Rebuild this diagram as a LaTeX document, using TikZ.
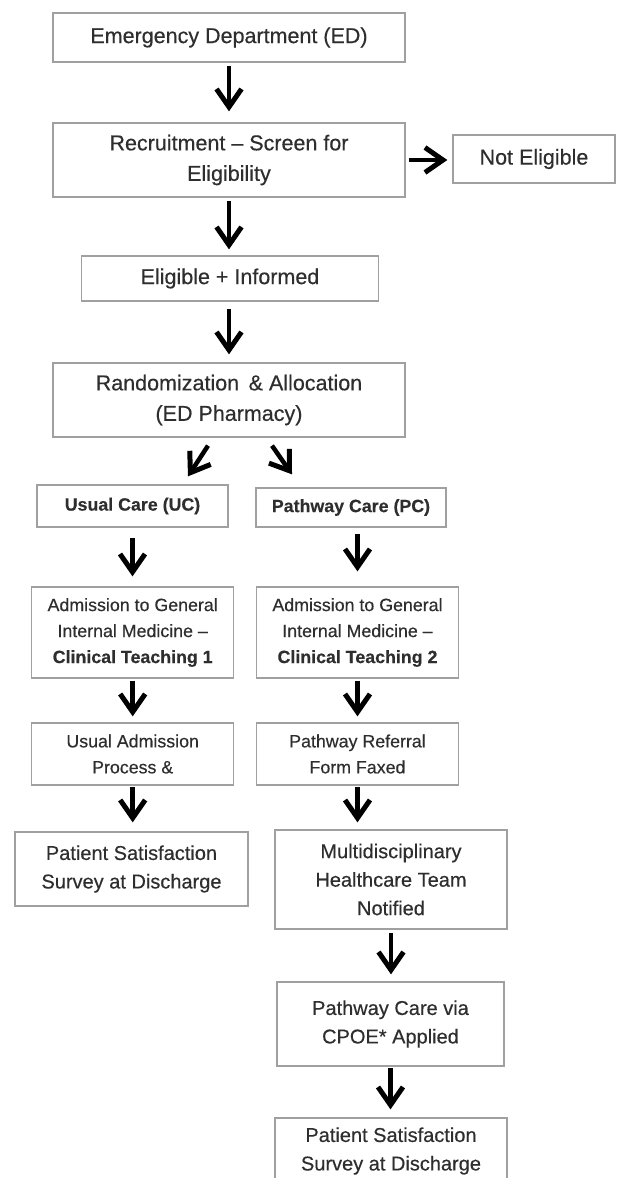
\documentclass[tikz,border=0pt]{standalone}
\usepackage{fontspec}
\setmainfont{Liberation Sans}[FakeBold=0.35]
\usetikzlibrary{arrows.meta,calc}
\definecolor{txt}{HTML}{2E2E2E}
\definecolor{bdr}{HTML}{A0A0A0}
\tikzset{
  box/.style={draw=bdr, line width=1.3pt, fill=white, text=txt, align=center,
    inner sep=0pt, font=\fontsize{21.5}{30.5}\selectfont},
  midtext/.style={font=\fontsize{20}{28.5}\selectfont},
  smalltext/.style={font=\fontsize{17.8}{26}\selectfont},
  arr/.style={line width=4.5pt, -{Straight Barb[length=18pt,width=25pt,line width=5pt]}},
}
\begin{document}
\begin{tikzpicture}[x=1pt,y=-1pt]
\useasboundingbox (0,0) rectangle (616,1178);
\clip (0,0) rectangle (616,1178);

\node[box, minimum width=352pt, minimum height=49pt] (ed) at (229,37.5) {Emergency Department (ED)};
\node[box, minimum width=352pt, minimum height=74pt] (rec) at (229,160) {Recruitment -- Screen for\\Eligibility};
\node[box, minimum width=162pt, minimum height=48pt] (ne) at (534,159) {Not Eligible};
\node[box, minimum width=297pt, minimum height=45pt] (ei) at (230,278.5) {Eligible + Informed};
\node[box, minimum width=352pt, minimum height=74pt] (rand) at (229,400) {Randomization \,\& Allocation\\(ED Pharmacy)};

\node[box, smalltext, minimum width=191pt, minimum height=42pt] (uc) at (132.5,506) {\textbf{Usual Care (UC)}};
\node[box, smalltext, minimum width=190pt, minimum height=39pt] (pc) at (351,507.5) {\textbf{Pathway Care (PC)}};

\node[box, smalltext, minimum width=202pt, minimum height=91pt] (ct1) at (132.7,632.5) {Admission to General\\Internal Medicine --\\\textbf{Clinical Teaching 1}};
\node[box, smalltext, minimum width=202pt, minimum height=91pt] (ct2) at (357.5,632.5) {Admission to General\\Internal Medicine --\\\textbf{Clinical Teaching 2}};

\node[box, smalltext, minimum width=202pt, minimum height=62pt] (ua) at (132.7,754) {Usual Admission\\Process \&};
\node[box, smalltext, minimum width=202pt, minimum height=62pt] (pr) at (357.5,754) {Pathway Referral\\Form Faxed};

\node[box, midtext, minimum width=233pt, minimum height=74pt] (psl) at (131.5,869) {Patient Satisfaction\\Survey at Discharge};
\node[box, midtext, minimum width=232pt, minimum height=99pt] (md) at (391,879.5) {Multidisciplinary\\Healthcare Team\\Notified};
\node[box, midtext, minimum width=227pt, minimum height=84pt] (cpoe) at (390.5,1024) {Pathway Care via\\CPOE* Applied};
\node[box, midtext, minimum width=232pt, minimum height=66pt] (psr) at (391,1151) {Patient Satisfaction\\Survey at Discharge};

\draw[arr, shorten <=3pt, shorten >=11pt] (ed.south) -- (rec.north);
\draw[arr, shorten <=3pt, shorten >=5pt] (rec.east) -- (rec.east -| ne.west);
\draw[arr, shorten <=3pt, shorten >=6pt] (rec.south) -- (rec.south |- ei.north);
\draw[arr, shorten <=7pt, shorten >=8pt] (ei.south -| rec.south) -- (rand.north);
\draw[arr] ([xshift=-21pt,yshift=-8pt]rand.south) -- ([xshift=55.5pt,yshift=8pt]uc.north);
\draw[arr] ([xshift=43pt,yshift=-8pt]rand.south) -- ([xshift=-59pt,yshift=13pt]pc.north);
\draw[arr, shorten <=10pt, shorten >=10pt] (uc.south) -- (uc.south |- ct1.north);
\draw[arr, shorten <=6pt, shorten >=15pt] (pc.south -| ct2.north) -- (ct2.north);
\draw[arr, shorten <=2pt, shorten >=6pt] (ct1.south) -- (ua.north);
\draw[arr, shorten <=2pt, shorten >=6pt] (ct2.south) -- (pr.north);
\draw[arr, shorten <=1pt, shorten >=9pt] (ua.south) -- (ua.south |- psl.north);
\draw[arr, shorten <=1pt, shorten >=7pt] (pr.south) -- (pr.south |- md.north);
\draw[arr, shorten <=3pt, shorten >=7pt] (md.south) -- (md.south |- cpoe.north);
\draw[arr, shorten <=1pt, shorten >=8pt] (cpoe.south) -- (cpoe.south |- psr.north);
\end{tikzpicture}
\end{document}
